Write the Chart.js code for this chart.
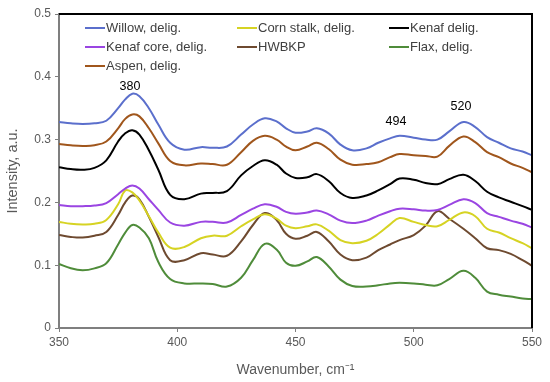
<!DOCTYPE html>
<html>
<head>
<meta charset="utf-8">
<script src="https://cdn.jsdelivr.net/npm/chart.js@4.4.1/dist/chart.umd.min.js"></script>
<style>
  body { margin: 0; background: #fff; }
  #wrap { width: 550px; height: 382px; }
</style>
</head>
<body>
<div id="wrap"><canvas id="chart" width="550" height="382"></canvas></div>
<script>
// ---------- DATA ----------
const wavenumbers = [350, 355, 360, 365, 370, 375, 378, 381, 384, 388, 392, 397, 403, 410, 415, 421, 427, 432, 437, 442, 446,
  450, 455, 459, 464, 469, 474, 480, 485, 490, 494, 500, 505, 510, 515, 521, 526, 531, 536, 541, 546, 550];

const willow = [0.328, 0.326, 0.325, 0.326, 0.330, 0.350, 0.364, 0.373, 0.369, 0.350, 0.324, 0.295, 0.284, 0.288, 0.287, 0.289, 0.308, 0.324, 0.334, 0.329, 0.318,
  0.311, 0.313, 0.318, 0.310, 0.292, 0.283, 0.286, 0.295, 0.302, 0.306, 0.303, 0.300, 0.300, 0.313, 0.328, 0.320, 0.304, 0.295, 0.286, 0.281, 0.275];
const aspen = [0.293, 0.291, 0.290, 0.291, 0.297, 0.318, 0.333, 0.340, 0.337, 0.318, 0.294, 0.266, 0.259, 0.262, 0.261, 0.260, 0.280, 0.298, 0.306, 0.300, 0.289,
  0.283, 0.289, 0.295, 0.285, 0.268, 0.260, 0.261, 0.264, 0.272, 0.277, 0.275, 0.274, 0.273, 0.290, 0.305, 0.296, 0.280, 0.272, 0.262, 0.255, 0.248];
const kenaf = [0.256, 0.253, 0.252, 0.255, 0.267, 0.297, 0.310, 0.315, 0.308, 0.283, 0.252, 0.212, 0.205, 0.214, 0.215, 0.218, 0.243, 0.258, 0.267, 0.260, 0.246,
  0.239, 0.240, 0.245, 0.234, 0.215, 0.207, 0.211, 0.219, 0.229, 0.238, 0.236, 0.231, 0.229, 0.237, 0.244, 0.234, 0.217, 0.208, 0.201, 0.194, 0.188];
const kenafCore = [0.196, 0.194, 0.194, 0.195, 0.199, 0.213, 0.222, 0.227, 0.222, 0.205, 0.188, 0.168, 0.163, 0.169, 0.169, 0.168, 0.180, 0.190, 0.197, 0.193, 0.185,
  0.182, 0.184, 0.187, 0.181, 0.171, 0.167, 0.171, 0.179, 0.186, 0.190, 0.189, 0.187, 0.188, 0.196, 0.205, 0.199, 0.183, 0.177, 0.171, 0.166, 0.160];
const cornStalk = [0.169, 0.166, 0.165, 0.166, 0.172, 0.197, 0.219, 0.216, 0.203, 0.178, 0.152, 0.128, 0.129, 0.143, 0.147, 0.147, 0.162, 0.173, 0.181, 0.174, 0.163,
  0.159, 0.162, 0.165, 0.155, 0.140, 0.135, 0.139, 0.150, 0.165, 0.175, 0.169, 0.164, 0.162, 0.172, 0.184, 0.178, 0.158, 0.152, 0.143, 0.135, 0.127];
const hwbkp = [0.148, 0.145, 0.144, 0.147, 0.153, 0.180, 0.200, 0.211, 0.205, 0.177, 0.145, 0.108, 0.108, 0.119, 0.117, 0.115, 0.138, 0.164, 0.183, 0.172, 0.150,
  0.142, 0.147, 0.153, 0.138, 0.117, 0.108, 0.112, 0.124, 0.133, 0.140, 0.148, 0.163, 0.186, 0.174, 0.158, 0.143, 0.127, 0.124, 0.118, 0.108, 0.099];
const flax = [0.102, 0.095, 0.092, 0.095, 0.103, 0.133, 0.152, 0.164, 0.160, 0.143, 0.105, 0.078, 0.071, 0.071, 0.070, 0.066, 0.080, 0.108, 0.134, 0.125, 0.104,
  0.099, 0.106, 0.113, 0.098, 0.077, 0.067, 0.066, 0.068, 0.071, 0.072, 0.071, 0.069, 0.068, 0.078, 0.091, 0.080, 0.058, 0.053, 0.050, 0.047, 0.046];

const legendOrder = ["Willow, delig.", "Corn stalk, delig.", "Kenaf delig.", "Kenaf core, delig.", "HWBKP", "Flax, delig.", "Aspen, delig."];

// peak labels
const peakLabels = ["380", "494", "520"];
const peakX = [380, 492.5, 520];
const peakY = [0.385, 0.328, 0.352];

const series = [
  { label: "Willow, delig.", data: willow, color: "#5b6fcc" },
  { label: "Aspen, delig.", data: aspen, color: "#a0561c" },
  { label: "Kenaf delig.", data: kenaf, color: "#000000" },
  { label: "Kenaf core, delig.", data: kenafCore, color: "#9a45e2" },
  { label: "Corn stalk, delig.", data: cornStalk, color: "#d6d323" },
  { label: "HWBKP", data: hwbkp, color: "#6e4a30" },
  { label: "Flax, delig.", data: flax, color: "#4f8c3a" }
];

const FONT = "'Liberation Sans', Arial, sans-serif";

// ---------- PLUGIN: frame, legend, labels ----------
const extras = {
  id: "extras",
  afterDraw(chart) {
    const ctx = chart.ctx;
    const a = chart.chartArea;
    const xs = chart.scales.x, ys = chart.scales.y;

    ctx.save();
    // top + right frame
    ctx.strokeStyle = "#000";
    ctx.lineWidth = 2;
    ctx.beginPath();
    ctx.moveTo(a.left, a.top);
    ctx.lineTo(a.right, a.top);
    ctx.lineTo(a.right, a.bottom);
    ctx.stroke();

    // legend grid
    const cols = [85, 237, 389];
    const rows = [28, 47, 66];
    ctx.font = "13px " + FONT;
    ctx.textBaseline = "middle";
    ctx.textAlign = "left";
    legendOrder.forEach((name, i) => {
      const s = series.find(d => d.label === name);
      const cx = cols[i % 3], cy = rows[Math.floor(i / 3)];
      ctx.strokeStyle = s.color;
      ctx.lineWidth = 2;
      ctx.beginPath();
      ctx.moveTo(cx, cy);
      ctx.lineTo(cx + 20, cy);
      ctx.stroke();
      ctx.fillStyle = "#404040";
      ctx.fillText(name, cx + 21, cy);
    });

    // peak labels
    ctx.fillStyle = "#000";
    ctx.textAlign = "center";
    ctx.font = "12.5px " + FONT;
    peakLabels.forEach((t, i) => {
      ctx.fillText(t, xs.getPixelForValue(peakX[i]), ys.getPixelForValue(peakY[i]));
    });
    ctx.restore();
  }
};

// ---------- CHART ----------
new Chart(document.getElementById("chart").getContext("2d"), {
  type: "line",
  data: {
    datasets: series.map(s => ({
      label: s.label,
      data: wavenumbers.map((w, i) => ({ x: w, y: s.data[i] })),
      borderColor: s.color,
      borderWidth: 2,
      pointRadius: 0,
      tension: 0.4,
      fill: false
    }))
  },
  options: {
    responsive: false,
    animation: false,
    layout: { padding: { left: 0, top: 14, right: 18, bottom: 0 } },
    plugins: { legend: { display: false }, tooltip: { enabled: false } },
    scales: {
      x: {
        type: "linear",
        min: 350, max: 550,
        afterFit: s => { s.height = 54; },
        border: { color: "#7f7f7f", width: 2 },
        grid: { drawOnChartArea: false, drawTicks: true, tickLength: 4, color: "#7f7f7f" },
        ticks: { stepSize: 50, padding: 3, color: "#595959", font: { family: FONT, size: 12 } },
        title: { display: true, text: "Wavenumber, cm⁻¹", color: "#595959", font: { family: FONT, size: 14 }, padding: { top: 4, bottom: 3 } }
      },
      y: {
        min: 0, max: 0.5,
        afterFit: s => { s.width = 59; },
        border: { color: "#7f7f7f", width: 2 },
        grid: { drawOnChartArea: false, drawTicks: true, tickLength: 4, color: "#7f7f7f" },
        ticks: { stepSize: 0.1, padding: 4, color: "#595959", font: { family: FONT, size: 12 } },
        title: { display: true, text: "Intensity, a.u.", color: "#595959", font: { family: FONT, size: 14.5 }, padding: { top: 4, bottom: 4 } }
      }
    }
  },
  plugins: [extras]
});
</script>
</body>
</html>
